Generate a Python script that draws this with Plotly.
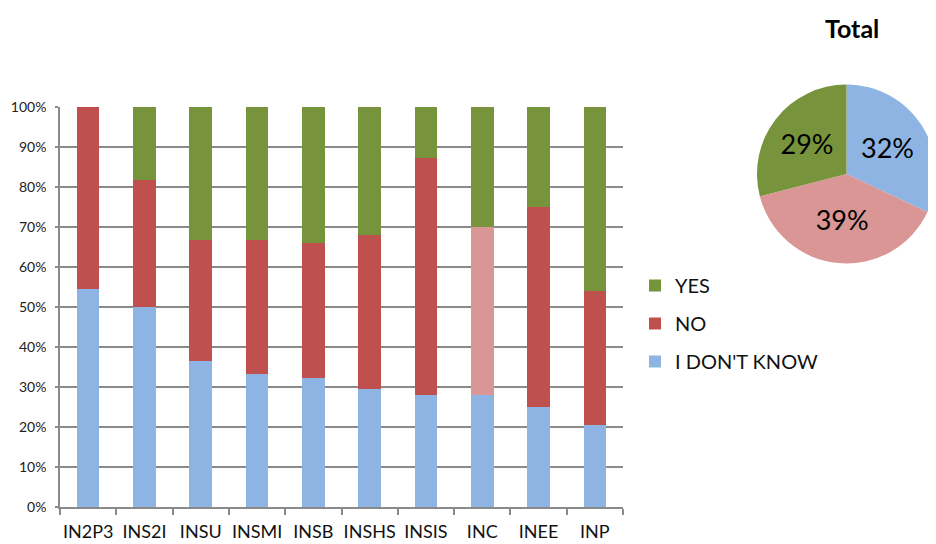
import plotly.graph_objects as go

categories = ["IN2P3", "INS2I", "INSU", "INSMI", "INSB", "INSHS", "INSIS", "INC", "INEE", "INP"]
dont_know = [54.5, 50.0, 36.4, 33.3, 32.2, 29.5, 28.0, 28.0, 25.0, 20.5]
no = [45.5, 31.8, 30.3, 33.4, 33.9, 38.5, 59.3, 42.0, 50.0, 33.6]
yes = [0.0, 18.2, 33.3, 33.3, 33.9, 32.0, 12.7, 30.0, 25.0, 45.9]

pie_labels = ["I DON'T KNOW", "NO", "YES"]
pie_values = [32, 39, 29]

GREEN = "#77933C"
RED = "#C0504D"
PINK = "#D99694"
BLUE = "#8DB4E2"
FONT = "Lato"

# page body adds an 8px offset; work in reference pixel coords minus 8
OFF = 8
W, H = 936 - OFF, 544 - OFF
L = 60 - OFF
B = H - (507 - OFF)
plot_w = W - L
plot_h = H - B


def px_x(x):
    return (x - OFF - L) / plot_w


def px_y(y):
    return (plot_h - (y - OFF)) / plot_h


no_colors = [PINK if c == "INC" else RED for c in categories]

fig = go.Figure()
fig.add_trace(go.Bar(x=categories, y=[v / 100 for v in dont_know], name="I DON'T KNOW",
                     marker=dict(color=BLUE, line=dict(width=0)), legendgroup="c", legendrank=3))
fig.add_trace(go.Bar(x=categories, y=[v / 100 for v in no], name="NO",
                     marker=dict(color=no_colors, line=dict(width=0)), legendgroup="b", legendrank=2))
fig.add_trace(go.Bar(x=categories, y=[v / 100 for v in yes], name="YES",
                     marker=dict(color=GREEN, line=dict(width=0)), legendgroup="a", legendrank=1))

fig.add_trace(go.Pie(
    labels=pie_labels, values=pie_values, sort=False, direction="clockwise", rotation=0,
    marker=dict(colors=[BLUE, PINK, GREEN], line=dict(width=0)),
    textinfo="percent", textposition="inside", insidetextorientation="horizontal",
    textfont=dict(family=FONT, size=27, color="black"),
    showlegend=False, hoverinfo="label+percent",
    domain=dict(x=[px_x(757), 1.0], y=[px_y(268), px_y(80)]),
))

fig.update_layout(
    width=W, height=H,
    margin=dict(l=L, r=0, t=0, b=B, autoexpand=False),
    paper_bgcolor="white", plot_bgcolor="white",
    barmode="stack", bargap=0.6,
    font=dict(family=FONT, color="#222222"),
    xaxis=dict(domain=[0, px_x(623)], showline=True, linecolor="#8a8a8a", linewidth=1.5,
               ticks="outside", tickson="boundaries", ticklen=6, tickcolor="#8a8a8a", tickwidth=1.5,
               tickangle=0, ticklabelstandoff=8,
               tickfont=dict(family=FONT, size=18, color="#111111"), showgrid=False,
               automargin=False),
    yaxis=dict(domain=[0, px_y(107)], range=[0, 1], dtick=0.1, tickformat=".0%",
               showline=True, linecolor="#8a8a8a", linewidth=1.5,
               ticks="outside", ticklen=3, tickcolor="#8a8a8a", tickwidth=1.5,
               ticklabelstandoff=6,
               showgrid=True, gridcolor="#8a8a8a", gridwidth=1.5,
               tickfont=dict(family=FONT, size=14, color="#222222"), zeroline=False,
               automargin=False),
    legend=dict(x=px_x(635), y=px_y(266), xanchor="left", yanchor="top",
                traceorder="grouped", tracegroupgap=9,
                font=dict(family=FONT, size=20, color="#111111"), bgcolor="rgba(0,0,0,0)"),
    annotations=[dict(text="<b>Total</b>", x=px_x(852), y=px_y(28),
                      xref="paper", yref="paper", xanchor="center", yanchor="middle",
                      showarrow=False,
                      font=dict(family=FONT, size=25, color="black"))],
)

fig.write_html("out.html")
